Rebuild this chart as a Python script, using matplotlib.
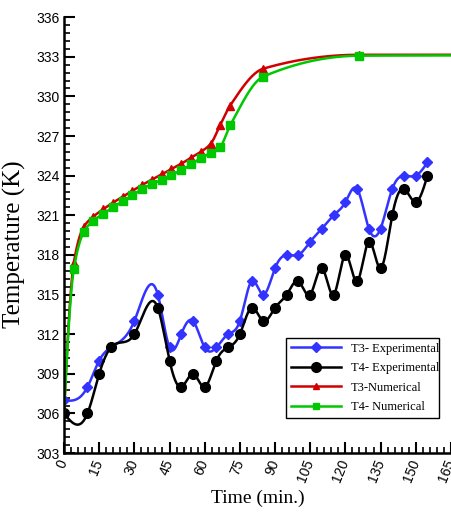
import matplotlib.pyplot as plt
import numpy as np
from matplotlib.lines import Line2D
from matplotlib.ticker import MultipleLocator

# experimental data (min, K)
t_exp = [0, 10, 15, 20, 30, 40, 45, 50, 55, 60, 65, 70, 75, 80, 85, 90, 95, 100,
         105, 110, 115, 120, 125, 130, 135, 140, 145, 150, 155]
T3_exp = [307, 308, 310, 311, 313, 315, 311, 312, 313, 311, 311, 312, 313, 316, 315, 317,
          318, 318, 319, 320, 321, 322, 323, 320, 320, 323, 324, 324, 325]
T4_exp = [306, 306, 309, 311, 312, 314, 310, 308, 309, 308, 310, 311, 312, 314, 313, 314,
          315, 316, 315, 317, 315, 318, 316, 319, 317, 321, 323, 322, 324]

# numerical data
t_num = [0, 4.17, 8.33, 12.5, 16.67, 20.83, 25, 29.17, 33.33, 37.5, 41.67, 45.83, 50,
         54.17, 58.33, 62.5, 66.67, 70.83, 85, 126, 165]
T3_num = [306, 317.4, 320.1, 320.9, 321.45, 321.95, 322.4, 322.85, 323.3, 323.7, 324.1,
          324.5, 324.9, 325.37, 325.8, 326.4, 327.85, 329.3, 332.1, 333.15, 333.15]
T4_num = [306, 316.9, 319.7, 320.6, 321.1, 321.6, 322.05, 322.5, 323.0, 323.35, 323.7,
          324.05, 324.4, 324.85, 325.35, 325.7, 326.2, 327.8, 331.5, 333.08, 333.1]


def spline(x, y, num=800):
    # natural cubic spline through the points (smooth curve like the original)
    x = np.asarray(x, float)
    y = np.asarray(y, float)
    n = len(x)
    h = np.diff(x)
    A = np.zeros((n, n))
    b = np.zeros(n)
    A[0, 0] = A[-1, -1] = 1
    for i in range(1, n - 1):
        A[i, i - 1] = h[i - 1]
        A[i, i] = 2 * (h[i - 1] + h[i])
        A[i, i + 1] = h[i]
        b[i] = 6 * ((y[i + 1] - y[i]) / h[i] - (y[i] - y[i - 1]) / h[i - 1])
    M = np.linalg.solve(A, b)
    xs = np.linspace(x[0], x[-1], num)
    k = np.clip(np.searchsorted(x, xs) - 1, 0, n - 2)
    hk = h[k]
    a = (x[k + 1] - xs) / hk
    c = (xs - x[k]) / hk
    ys = a * y[k] + c * y[k + 1] + ((a**3 - a) * M[k] + (c**3 - c) * M[k + 1]) * hk**2 / 6
    return xs, ys


def pchip(x, y, num=800):
    # monotone cubic, no overshoot on the flat tail
    x = np.asarray(x, float)
    y = np.asarray(y, float)
    n = len(x)
    h = np.diff(x)
    dl = np.diff(y) / h
    d = np.zeros(n)
    for k in range(1, n - 1):
        if dl[k - 1] * dl[k] > 0:
            w1 = 2 * h[k] + h[k - 1]
            w2 = h[k] + 2 * h[k - 1]
            d[k] = (w1 + w2) / (w1 / dl[k - 1] + w2 / dl[k])
    d[0] = ((2 * h[0] + h[1]) * dl[0] - h[0] * dl[1]) / (h[0] + h[1])
    d[-1] = 0
    xs = np.linspace(x[0], x[-1], num)
    k = np.clip(np.searchsorted(x, xs) - 1, 0, n - 2)
    s = (xs - x[k]) / h[k]
    ys = ((2 * s**3 - 3 * s**2 + 1) * y[k] + (s**3 - 2 * s**2 + s) * h[k] * d[k]
          + (-2 * s**3 + 3 * s**2) * y[k + 1] + (s**3 - s**2) * h[k] * d[k + 1])
    return xs, ys


blue = '#3333ff'
red = '#d00000'
green = '#00c800'

fig = plt.figure(figsize=(4.52, 5.19), dpi=100)
ax = fig.add_axes([0.1416, 0.127, 0.856, 0.84])

ax.plot(*spline(t_exp, T3_exp), color=blue, lw=1.8)
ax.plot(t_exp, T3_exp, 'D', color=blue, ms=5.5, ls='none')
ax.plot(*spline(t_exp, T4_exp), color='black', lw=1.8)
ax.plot(t_exp, T4_exp, 'o', color='black', ms=7, ls='none')
ax.plot(*pchip(t_num, T3_num), color=red, lw=1.8)
ax.plot(t_num[1:-1], T3_num[1:-1], '^', color=red, ms=5.5, ls='none')
ax.plot(*pchip(t_num, T4_num), color=green, lw=1.8)
ax.plot(t_num[1:-1], T4_num[1:-1], 's', color=green, ms=5.5, ls='none')

ax.set_xlim(0, 165)
ax.set_ylim(303, 336)
ax.xaxis.set_major_locator(MultipleLocator(15))
ax.xaxis.set_minor_locator(MultipleLocator(3))
ax.yaxis.set_major_locator(MultipleLocator(3))
ax.yaxis.set_minor_locator(MultipleLocator(0.6))
ax.tick_params(which='major', direction='in', length=8, width=1.5)
ax.tick_params(which='minor', direction='in', length=4.5, width=1.2)
ax.spines['top'].set_visible(False)
ax.spines['right'].set_visible(False)
ax.spines['left'].set_linewidth(1.8)
ax.spines['bottom'].set_linewidth(1.8)

tickfont = ['Liberation Sans Narrow', 'Liberation Sans', 'DejaVu Sans']
for lab in ax.get_yticklabels():
    lab.set_family(tickfont)
    lab.set_fontsize(10)
for lab in ax.get_xticklabels():
    lab.set_family(tickfont)
    lab.set_fontsize(10)
    lab.set_rotation(68)
    lab.set_ha('right')
    lab.set_va('center')
    lab.set_rotation_mode('anchor')
ax.tick_params(axis='x', pad=5)
ax.tick_params(axis='y', pad=3)

ax.set_xlabel('Time (min.)', family='Liberation Serif', fontsize=14, labelpad=4)
ax.set_ylabel('Temperature (K)', family='Liberation Serif', fontsize=18)
ax.yaxis.set_label_coords(-0.097, 0.479)

handles = [
    Line2D([], [], color=blue, lw=1.8, marker='D', ms=5),
    Line2D([], [], color='black', lw=1.8, marker='o', ms=7),
    Line2D([], [], color=red, lw=1.8, marker='^', ms=5),
    Line2D([], [], color=green, lw=1.8, marker='s', ms=5),
]
labels = ['T3- Experimental', 'T4- Experimental', 'T3-Numerical', 'T4- Numerical']
leg = ax.legend(handles, labels, loc='lower left', bbox_to_anchor=(0.574, 0.08, 0.395, 0.22),
                mode='expand', prop={'family': 'Liberation Serif', 'size': 9},
                handlelength=4.0, handletextpad=0.8, fancybox=False, edgecolor='black',
                framealpha=1, borderaxespad=0, labelspacing=0.6)
leg.get_frame().set_linewidth(1.0)

fig.savefig('out.png', dpi=100)
